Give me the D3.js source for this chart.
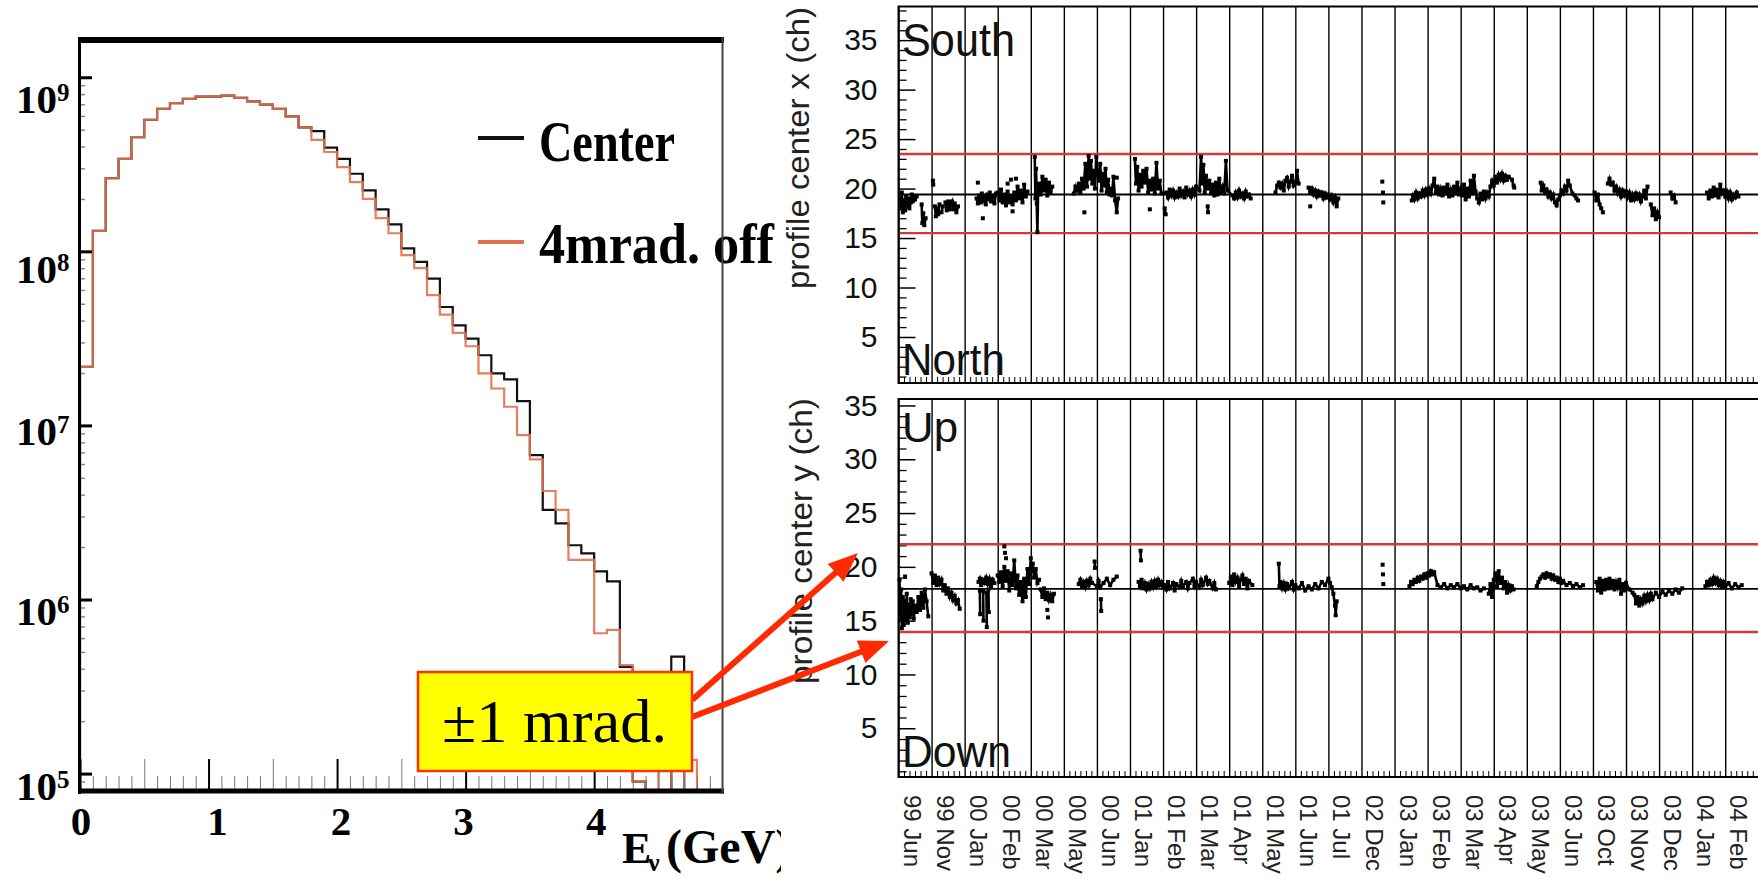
<!DOCTYPE html>
<html><head><meta charset="utf-8">
<script src="https://cdn.jsdelivr.net/npm/d3@7/dist/d3.min.js"></script>
<style>html,body{margin:0;padding:0;background:#fff;overflow:hidden}svg{display:block}</style>
</head><body>
<svg id="chart" width="1758" height="879" xmlns="http://www.w3.org/2000/svg"></svg>
<script>
// ================= DATA =================
// Left: neutrino energy spectrum, 0.1 GeV bins (lower edges, GeV)
const binLow = [0,0.1,0.2,0.3,0.4,0.5,0.6,0.7,0.8,0.9,1.0,1.1,1.2,1.3,1.4,1.5,1.6,1.7,1.8,1.9,2.0,2.1,2.2,2.3,2.4,2.5,2.6,2.7,2.8,2.9,3.0,3.1,3.2,3.3,3.4,3.5,3.6,3.7,3.8,3.9,4.0,4.1,4.2,4.3,4.4,4.5,4.6,4.7,4.8,4.9];
const fluxCenter = [2.17e7,1.31e8,2.63e8,3.4e8,4.53e8,5.7e8,6.59e8,7.1e8,7.52e8,7.74e8,7.74e8,7.85e8,7.62e8,7.26e8,6.97e8,6.59e8,5.96e8,5.16e8,4.9e8,3.94e8,3.4e8,2.79e8,2.24e8,1.74e8,1.43e8,1.04e8,8.69e7,6.97e7,4.79e7,3.76e7,3.15e7,2.53e7,1.99e7,1.84e7,1.38e7,6.76e6,3.27e6,2.74e6,2.05e6,1.84e6,1.45e6,1.27e6,4.1e5,9e4,0,0,4.7e5,0,0,0];
const flux4mrad = [2.17e7,1.31e8,2.63e8,3.4e8,4.53e8,5.7e8,6.59e8,7.1e8,7.52e8,7.74e8,7.74e8,7.85e8,7.62e8,7.26e8,6.97e8,6.59e8,5.96e8,5.16e8,4.37e8,3.72e8,3.05e8,2.5e8,2.0e8,1.55e8,1.27e8,9.5e7,8.0e7,5.6e7,4.33e7,3.4e7,2.85e7,1.99e7,1.63e7,1.28e7,8.8e6,6.38e6,4.2e6,3.27e6,1.69e6,1.69e6,6.4e5,6.7e5,4.2e5,9e4,0,2e5,0,1.2e5,0,0];
const xTickValues = [0,1,2,3,4];
const yTickExponents = [9,8,7,6,5];
const legendNames = ["Center","4mrad. off"];
const annotationText = "±1 mrad.";

// Right: beam profile centre vs run period (x = period index)
const dateLabels = ["99 Jun","99 Nov","00 Jan","00 Feb","00 Mar","00 May","00 Jun","01 Jan","01 Feb","01 Mar","01 Apr","01 May","01 Jun","01 Jul","02 Dec","03 Jan","03 Feb","03 Mar","03 Apr","03 May","03 Jun","03 Oct","03 Nov","03 Dec","04 Jan","04 Feb"];
const profileTicks = [5,10,15,20,25,30,35];
const bandX = [15.5,19.4,23.5];   // lower limit, centre, upper limit
const bandY = [13.95,17.95,22.1];

const profileX = [
 [[0.05,19.0],[0.08,18.0],[0.1,19.6],[0.13,17.6],[0.16,18.8],[0.2,17.8],[0.23,19.2],[0.27,18.2],[0.3,19.0],[0.33,18.0],[0.37,18.6],[0.4,19.4],[0.43,18.7],[0.47,19.1],[0.5,18.9],[0.55,19.2]],
 [[0.70,18.4],[0.72,16.5],[0.75,17.5],[0.78,16.3],[0.82,17.0]],
 [[1.04,20.8],[1.05,20.4]],
 [[1.1,18.2],[1.13,17.2],[1.17,18.0],[1.2,17.4],[1.24,18.4]],
 [[1.3,17.6],[1.34,18.2]],
 [[1.42,18.6],[1.46,17.8],[1.5,18.7],[1.55,17.9],[1.58,18.4],[1.62,18.7],[1.66,17.9],[1.7,18.5],[1.75,17.6],[1.8,18.2]],
 [[2.36,19.0],[2.4,18.5],[2.44,19.3],[2.48,18.6],[2.52,19.5],[2.56,18.8],[2.6,19.2],[2.64,18.4],[2.68,19.4],[2.72,18.9],[2.76,19.6],[2.8,18.7],[2.85,19.3],[2.9,18.5],[2.95,19.5],[3.0,19.6],[3.05,18.8],[3.1,19.9],[3.15,18.6],[3.2,19.4],[3.25,18.3],[3.3,19.7],[3.35,18.6],[3.4,19.2],[3.45,18.4],[3.5,19.6],[3.55,18.8],[3.6,20.2],[3.65,19.0],[3.7,19.8],[3.75,18.6],[3.8,20.4],[3.85,19.2],[3.9,19.7]],
 [[2.4,20.6]],[[2.55,17.0]],[[3.4,20.9]],[[3.55,21.0]],[[3.3,20.5]],[[3.45,17.7]],
 [[4.12,23.2],[4.14,19.0],[4.16,22.0],[4.18,18.5],[4.2,15.6],[4.22,19.5],[4.25,20.5],[4.3,19.4],[4.35,21.2],[4.4,19.8],[4.45,20.9],[4.5,19.3],[4.55,20.6],[4.6,19.6],[4.65,20.2]],
 [[5.3,19.5],[5.35,20.2],[5.4,19.8],[5.45,20.5],[5.5,19.6],[5.55,21.0],[5.6,20.0],[5.65,22.5],[5.7,20.2],[5.75,23.3],[5.78,21.0],[5.82,22.8],[5.86,20.5],[5.9,21.8],[5.94,20.0],[5.98,23.2],[6.02,21.5],[6.06,20.8],[6.1,22.5],[6.14,19.8],[6.18,21.5],[6.22,20.3],[6.26,22.0],[6.3,19.6],[6.34,20.9],[6.38,19.4],[6.42,20.0],[6.46,19.3],[6.5,21.2],[6.55,18.8],[6.6,17.6],[6.64,19.0]],
 [[5.62,17.6]],[[6.6,21.1]],
 [[7.15,23.0],[7.18,20.5],[7.22,22.2],[7.26,19.8],[7.3,21.4],[7.35,20.2],[7.4,21.8],[7.45,20.6],[7.5,22.0],[7.55,19.6],[7.6,20.8],[7.65,19.9],[7.7,21.0],[7.75,19.5],[7.8,22.6],[7.85,20.0],[7.9,20.8],[7.95,19.5],[8.1,19.6],[8.15,19.1],[8.2,19.9],[8.25,19.3],[8.3,19.8],[8.35,19.1],[8.4,19.6],[8.45,19.2],[8.5,20.0],[8.55,19.3],[8.6,19.7],[8.65,19.1],[8.7,20.1],[8.75,19.4],[8.8,19.8],[8.85,19.2],[8.9,19.9],[8.95,19.4],[9.0,20.2],[9.1,19.8],[9.15,23.2],[9.18,20.5],[9.22,22.4],[9.26,19.6],[9.3,21.3],[9.35,20.0],[9.4,20.8],[9.45,19.5],[9.5,20.4],[9.55,19.3],[9.6,20.6],[9.65,19.4],[9.7,21.0],[9.75,19.6],[9.8,20.2],[9.85,19.5],[9.9,22.8],[9.95,19.8],[10.1,19.3],[10.15,19.0],[10.2,19.6],[10.25,19.1],[10.3,19.8],[10.35,19.2],[10.4,19.5],[10.45,19.0],[10.5,19.7],[10.55,19.2],[10.6,19.4],[10.65,19.0]],
 [[7.6,17.9]],[[8.05,18.0],[8.08,17.4]],[[9.35,18.2],[9.36,17.6]],
 [[11.4,19.6],[11.45,20.3],[11.5,20.6],[11.55,20.1],[11.6,20.5],[11.65,19.8],[11.7,20.8],[11.75,21.1],[11.8,20.2],[11.85,20.7],[11.9,21.3],[11.95,20.3],[12.0,20.6],[12.05,21.8],[12.1,20.5]],
 [[12.4,20.1],[12.45,19.6],[12.5,20.0],[12.55,19.4],[12.6,19.8],[12.65,19.2],[12.7,19.7],[12.75,19.3],[12.8,19.6],[12.85,19.0],[12.9,19.5],[12.95,19.1],[13.0,19.4],[13.05,18.9],[13.1,19.3],[13.15,18.6],[13.2,19.1],[13.25,18.2],[13.3,19.0]],
 [[12.45,18.2]],
 [[14.63,20.7]],[[14.65,19.6]],[[14.66,18.6]],
 [[15.52,18.8],[15.56,19.3],[15.6,18.9],[15.65,19.6],[15.7,19.0],[15.75,19.5],[15.8,19.2],[15.85,19.8],[15.9,19.3],[15.95,19.9],[16.0,19.4],[16.05,20.0],[16.1,19.5],[16.15,20.3],[16.2,21.0],[16.25,19.6],[16.3,20.2],[16.35,19.4],[16.4,20.0],[16.45,19.3],[16.5,20.1],[16.55,19.5],[16.6,20.4],[16.65,19.2],[16.7,19.9],[16.75,19.3],[16.8,20.2],[16.85,19.5],[16.9,20.6],[16.95,19.4],[17.0,20.0],[17.05,19.3],[17.1,20.4],[17.15,18.9],[17.2,20.0],[17.25,19.2],[17.3,20.8],[17.35,19.5],[17.4,21.3],[17.45,19.7],[17.5,19.0],[17.55,18.6],[17.6,19.5],[17.65,18.9],[17.7,19.7],[17.75,19.0],[17.8,19.6],[17.85,19.2],[17.9,20.2],[17.95,20.8],[18.0,20.3],[18.05,21.2],[18.1,20.6],[18.15,21.4],[18.2,20.9],[18.25,21.5],[18.3,20.8],[18.35,21.3],[18.4,20.9],[18.45,21.2],[18.55,20.9],[18.6,20.3],[18.62,20.1]],
 [[19.42,20.6],[19.45,19.8],[19.5,20.3],[19.55,19.6],[19.6,19.9],[19.65,19.2],[19.7,19.6],[19.75,19.0],[19.8,19.4],[19.85,18.6],[19.9,18.3],[19.95,18.9],[20.0,19.3],[20.05,19.8],[20.1,19.5],[20.15,20.2],[20.2,19.8],[20.25,20.8],[20.3,20.3],[20.38,19.5],[20.45,19.3],[20.5,19.0],[20.55,18.8]],
 [[21.05,19.6],[21.1,18.8],[21.15,19.4],[21.2,18.4],[21.25,18.0],[21.3,17.6]],
 [[21.45,20.5],[21.5,21.0],[21.55,20.4],[21.6,20.6],[21.65,19.8],[21.7,20.2],[21.75,19.5],[21.8,19.9],[21.85,19.2],[21.9,19.8],[21.95,19.3],[22.0,19.7],[22.05,19.1],[22.1,19.6],[22.15,18.8],[22.2,19.4],[22.25,18.9],[22.3,19.5],[22.35,19.0],[22.4,19.4],[22.45,18.7],[22.5,19.2],[22.55,19.8],[22.6,19.0],[22.65,20.2]],
 [[22.75,18.4],[22.8,17.3],[22.85,18.0],[22.9,16.9],[22.95,17.6],[23.0,17.1]],
 [[23.35,19.6],[23.4,19.0],[23.45,19.3],[23.5,18.6]],
 [[24.45,19.6],[24.5,19.0],[24.55,19.8],[24.6,19.2],[24.65,20.1],[24.7,19.3],[24.75,19.9],[24.8,19.1],[24.85,20.4],[24.9,19.5],[24.95,19.8],[25.0,19.2],[25.05,19.7],[25.1,19.0],[25.15,19.6],[25.2,18.9],[25.25,19.4],[25.3,19.1],[25.35,19.6],[25.4,19.2]]
];

const profileY = [
 [[0.03,18.8],[0.05,15.2],[0.08,17.9],[0.1,14.3],[0.13,17.2],[0.16,14.6],[0.19,16.8],[0.22,15.0],[0.25,17.5],[0.28,14.8],[0.31,16.5],[0.34,15.3],[0.37,17.0],[0.4,15.6],[0.43,16.8],[0.46,15.2],[0.5,16.4],[0.55,15.8],[0.6,17.2],[0.65,16.0],[0.7,17.6],[0.75,16.2],[0.8,17.9],[0.85,16.8],[0.9,15.4]],
 [[0.2,19.1]],
 [[1.0,19.4],[1.05,18.5],[1.1,19.2],[1.15,18.3],[1.2,19.0],[1.25,18.4],[1.3,18.8],[1.35,17.8],[1.4,18.3],[1.45,17.5],[1.5,18.0],[1.55,17.2],[1.6,17.6],[1.65,16.9],[1.7,17.3],[1.75,16.6],[1.8,16.9],[1.85,16.1]],
 [[2.42,18.6],[2.46,18.9],[2.5,18.3],[2.55,18.8],[2.6,18.5],[2.65,19.0],[2.7,18.4],[2.75,18.9],[2.8,18.2],[2.85,18.8],[2.9,18.5]],
 [[2.46,17.8],[2.47,15.6]],[[2.56,17.8],[2.57,15.0]],[[2.66,17.6],[2.67,14.4]],[[2.72,17.9],[2.73,15.8]],
 [[3.0,19.2],[3.05,18.6],[3.1,19.5],[3.15,18.2],[3.2,20.0],[3.25,18.7],[3.3,19.6],[3.35,17.8],[3.4,19.4],[3.45,18.3],[3.5,20.6],[3.55,18.0],[3.6,19.2],[3.65,17.4],[3.7,18.6],[3.75,16.8],[3.8,18.9],[3.85,17.2],[3.9,19.8],[3.95,18.4],[4.0,20.8],[4.03,19.6],[4.06,20.3],[4.1,19.0],[4.15,19.8],[4.2,18.5],[4.25,18.8]],
 [[3.2,21.9]],[[3.22,21.3]],[[3.25,20.8]],
 [[4.3,17.9],[4.35,17.2],[4.4,18.0],[4.45,17.0],[4.5,17.6],[4.55,16.9],[4.6,17.4],[4.65,16.8],[4.7,17.5]],
 [[4.5,16.0]],[[4.52,15.3]],
 [[5.45,18.4],[5.5,18.8],[5.55,18.2],[5.6,18.6],[5.65,18.1],[5.7,18.7],[5.75,18.3],[5.8,18.9],[5.85,18.5],[6.0,18.2],[6.05,18.7],[6.1,18.1],[6.2,18.5],[6.3,18.9],[6.4,18.3],[6.5,18.8],[6.6,19.1]],
 [[5.93,20.5],[5.94,19.9]],[[6.12,17.0],[6.13,15.9]],
 [[7.26,18.6],[7.3,18.2],[7.35,18.8],[7.4,18.0],[7.45,18.5],[7.5,17.9],[7.55,18.4],[7.6,18.0],[7.65,18.6],[7.7,18.1],[7.75,18.7],[7.8,18.2],[7.85,18.8],[7.9,18.3],[7.95,18.6],[8.0,18.1],[8.05,18.3],[8.1,17.9],[8.15,18.6],[8.2,18.0],[8.3,18.5],[8.35,17.8],[8.4,18.4],[8.5,18.1],[8.55,18.7],[8.6,18.2],[8.7,18.6],[8.75,18.0],[8.8,18.5],[8.9,18.9],[8.95,18.2],[9.0,18.6],[9.1,18.1],[9.15,18.8],[9.2,18.3],[9.3,19.0],[9.35,18.4],[9.4,18.7],[9.5,18.0],[9.55,18.5],[9.6,17.9]],
 [[7.32,21.5],[7.33,20.6]],
 [[10.0,18.5],[10.05,19.1],[10.1,18.3],[10.15,19.3],[10.2,18.6],[10.25,19.0],[10.3,18.2],[10.35,18.8],[10.4,19.2],[10.45,18.4],[10.5,18.9],[10.55,18.0],[10.6,18.7],[10.7,18.3]],
 [[11.5,20.3],[11.52,18.2],[11.55,18.6],[11.6,18.0],[11.65,18.5],[11.7,17.9],[11.75,18.4],[11.8,18.0],[11.9,18.6],[11.95,17.9],[12.0,18.3],[12.1,18.0],[12.2,18.5],[12.3,17.8],[12.4,18.2],[12.5,17.9],[12.6,18.4],[12.7,18.0],[12.8,18.6],[12.9,18.3],[13.0,18.9],[13.05,18.5],[13.1,18.1],[13.15,17.5],[13.2,16.4],[13.22,15.5],[13.25,16.8]],
 [[14.64,20.2]],[[14.65,19.3]],[[14.66,18.4]],
 [[15.45,18.2],[15.5,18.6],[15.55,18.4],[15.6,18.8],[15.65,18.6],[15.7,19.0],[15.75,18.7],[15.8,19.1],[15.85,18.9],[15.9,19.3],[15.95,19.0],[16.0,19.4],[16.05,19.2],[16.1,19.6],[16.15,19.3],[16.2,19.5],[16.3,18.3],[16.4,18.1],[16.5,18.4],[16.6,18.0],[16.7,18.3],[16.8,18.1],[16.9,18.4],[17.0,18.0],[17.1,18.2],[17.2,17.9],[17.3,18.3],[17.4,18.0],[17.5,18.1],[17.6,17.8],[17.7,18.0]],
 [[17.85,17.5],[17.9,18.4],[17.95,17.2],[18.0,18.8],[18.05,19.4],[18.1,18.2],[18.15,19.6],[18.2,18.5],[18.25,19.0],[18.3,18.0],[18.35,18.6],[18.4,17.6],[18.45,18.3],[18.5,17.8],[18.55,18.2],[18.6,17.9]],
 [[19.3,18.2],[19.35,18.6],[19.4,18.9],[19.45,19.1],[19.5,19.3],[19.55,19.0],[19.6,19.4],[19.65,19.1],[19.7,19.3],[19.75,18.9],[19.8,19.2],[19.85,18.8],[19.9,19.0],[19.95,18.6],[20.0,18.9],[20.05,18.5],[20.1,18.7],[20.2,18.3],[20.3,18.5],[20.4,18.2],[20.5,18.4],[20.6,18.1],[20.7,18.3]],
 [[21.1,18.6],[21.15,17.8],[21.2,18.9],[21.25,17.6],[21.3,18.7],[21.35,17.9],[21.4,18.8],[21.45,18.0],[21.5,18.9],[21.55,18.2],[21.6,18.7],[21.65,17.9],[21.7,18.6],[21.75,18.1],[21.8,18.8],[21.85,17.5],[21.9,18.4],[21.95,17.8],[22.0,18.5],[22.1,17.9],[22.2,17.6],[22.25,17.4],[22.3,16.6],[22.35,17.2],[22.4,16.4],[22.45,17.0],[22.5,16.6],[22.55,17.3],[22.6,16.8],[22.65,17.4],[22.7,16.9],[22.75,17.5],[22.8,17.0],[22.9,17.6],[23.0,17.2],[23.1,17.7],[23.2,17.4],[23.3,17.8],[23.4,17.5],[23.5,17.9],[23.6,17.6],[23.7,18.0]],
 [[24.4,18.2],[24.45,18.6],[24.5,18.3],[24.55,18.8],[24.6,18.4],[24.65,19.0],[24.7,18.5],[24.75,18.9],[24.8,18.3],[24.85,18.7],[24.9,18.2],[24.95,18.6],[25.0,18.1],[25.1,18.5],[25.2,18.0],[25.3,18.4],[25.4,18.1],[25.5,18.3]]
];

// ================= DRAWING =================
const svg = d3.select("#chart");
const SERIF = "'Liberation Serif','Times New Roman',Times,serif";
const SANS = "'Liberation Sans',Arial,Helvetica,sans-serif";
const ORANGE = "#e2714d";
svg.append("rect").attr("width",1758).attr("height",879).attr("fill","#fff");

// ---------- left: histogram ----------
const xL = d3.scaleLinear().domain([0,5]).range([80,722.7]);
const yL = d3.scaleLog().domain([Math.pow(10,4.9), Math.pow(10,9.214)]).range([791,40]);
const defs = svg.append("defs");
defs.append("clipPath").attr("id","clipL").append("rect")
  .attr("x",80).attr("y",40).attr("width",643).attr("height",752);

const gL = svg.append("g");
const histLine = d3.line()
  .x(d=>xL(d[0]))
  .y(d=> d[1] > 0 ? yL(d[1]) : 797)
  .curve(d3.curveStepAfter);
function histPts(vals){
  const pts = [[0,0]];
  vals.forEach((v,i)=>pts.push([binLow[i], v]));
  pts.push([5,0]);
  return pts;
}
const gH = gL.append("g").attr("clip-path","url(#clipL)");
gH.append("path").attr("d",histLine(histPts(fluxCenter)))
  .attr("fill","none").attr("stroke","#111").attr("stroke-width",2.2);
gH.append("path").attr("d",histLine(histPts(flux4mrad)))
  .attr("fill","none").attr("stroke",ORANGE).attr("stroke-width",2.2).attr("opacity",0.9);

// x axis ticks (pointing up from the bottom axis)
const minorGeV = d3.range(1,50).map(i=>i/10).filter(v=>Math.abs(v*2-Math.round(v*2))>1e-6);
const halfGeV = [0.5,1.5,2.5,3.5,4.5];
function styleAxis(g, color, w){
  g.select(".domain").remove();
  g.selectAll(".tick line").attr("stroke",color).attr("stroke-width",w);
  g.selectAll(".tick text").remove();
}
gL.append("g").attr("transform","translate(0,789)")
  .call(d3.axisTop(xL).tickValues(minorGeV).tickSize(13).tickFormat(""))
  .call(g=>styleAxis(g,"#777",1));
gL.append("g").attr("transform","translate(0,789)")
  .call(d3.axisTop(xL).tickValues(halfGeV).tickSize(30).tickFormat(""))
  .call(g=>styleAxis(g,"#777",1));
gL.append("g").attr("transform","translate(0,789)")
  .call(d3.axisTop(xL).tickValues(xTickValues).tickSize(30).tickFormat(""))
  .call(g=>styleAxis(g,"#000",2));

// y axis ticks
const minorFlux = [];
for (let e=4;e<=9;e++) for (let m=2;m<=9;m++){ const v=m*Math.pow(10,e); if(v>yL.domain()[0] && v<yL.domain()[1]) minorFlux.push(v); }
gL.append("g").attr("transform","translate(80,0)")
  .call(d3.axisRight(yL).tickValues(minorFlux).tickSize(5).tickFormat(""))
  .call(g=>styleAxis(g,"#888",1.5));
gL.append("g").attr("transform","translate(80,0)")
  .call(d3.axisRight(yL).tickValues(yTickExponents.map(e=>Math.pow(10,e))).tickSize(12).tickFormat(""))
  .call(g=>styleAxis(g,"#000",3));

// frame
gL.append("rect").attr("x",79).attr("y",37).attr("width",645).attr("height",6).attr("fill","#000");
gL.append("line").attr("x1",79.5).attr("x2",79.5).attr("y1",37).attr("y2",794).attr("stroke","#000").attr("stroke-width",3);
gL.append("line").attr("x1",78).attr("x2",724).attr("y1",791).attr("y2",791).attr("stroke","#000").attr("stroke-width",5);

// y labels 10^n
const yLabelDy = {9:36, 8:32, 7:20, 6:25, 5:26};
yTickExponents.forEach(e=>{
  const t = gL.append("text").attr("x",16).attr("y",yL(Math.pow(10,e))+yLabelDy[e])
    .attr("font-family",SERIF).attr("font-weight","bold").attr("font-size",41).attr("fill","#000");
  t.append("tspan").text("10");
  t.append("tspan").attr("dy",-12).attr("font-size",25).text(String(e));
});
// x labels
const xLabelDx = {0:1, 1:9, 2:4, 3:-2, 4:2};
xTickValues.forEach(v=>{
  gL.append("text").attr("x",xL(v)+xLabelDx[v]).attr("y",835).attr("text-anchor","middle")
    .attr("font-family",SERIF).attr("font-weight","bold").attr("font-size",41).text(String(v));
});
// axis title: E_nu (GeV)
const xTitle = gL.append("text").attr("y",863).attr("font-family",SERIF).attr("font-weight","bold");
xTitle.append("tspan").attr("x",622).attr("font-size",44).text("E");
xTitle.append("tspan").attr("x",648).attr("dy",8).attr("font-size",26).text("ν");
xTitle.append("tspan").attr("x",666).attr("dy",-8).attr("font-size",48).text("(GeV)");

// legend
const legColors = ["#111", ORANGE];
const legY = [138, 242];
const legBase = [161, 263];
const legLen = [136, 235];
legendNames.forEach((n,i)=>{
  gL.append("line").attr("x1",478).attr("x2",524).attr("y1",legY[i]).attr("y2",legY[i])
    .attr("stroke",legColors[i]).attr("stroke-width",4);
  gL.append("text").attr("x",539).attr("y",legBase[i])
    .attr("font-family",SERIF).attr("font-weight","bold").attr("font-size",56)
    .attr("textLength",legLen[i]).attr("lengthAdjust","spacingAndGlyphs").text(n);
});
gL.append("line").attr("x1",722.5).attr("x2",722.5).attr("y1",37).attr("y2",794).attr("stroke","#444").attr("stroke-width",2);

// ---------- right: profile panels ----------
svg.append("rect").attr("x",781).attr("y",0).attr("width",977).attr("height",879).attr("fill","#fff");
const xR = d3.scaleLinear().domain([0,26]).range([898.5,1758.3]);
const colBounds = d3.range(27);
const minorCols = [];
for (let k=0;k<26;k++) for (let j=1;j<6;j++) minorCols.push(k+j/6);

function drawPanel(cfg){
  const yS = d3.scaleLinear().domain(cfg.dom).range([cfg.y1,cfg.y0]);
  const g = svg.append("g");
  g.append("g").attr("transform",`translate(0,${cfg.y1})`)
    .call(d3.axisBottom(xR).tickValues(colBounds).tickSize(-(cfg.y1-cfg.y0)).tickFormat(""))
    .call(a=>styleAxis(a,"#000",1.4));
  g.append("g").attr("transform",`translate(0,${cfg.y1})`)
    .call(d3.axisBottom(xR).tickValues(minorCols).tickSize(-6).tickFormat(""))
    .call(a=>styleAxis(a,"#000",1));
  const minorV = d3.range(1,39).filter(v=>v>cfg.dom[0] && v<cfg.dom[1] && v%5!==0);
  g.append("g").attr("transform","translate(898.5,0)")
    .call(d3.axisLeft(yS).tickValues(minorV).tickSizeInner(-8).tickSizeOuter(0).tickFormat(""))
    .call(a=>styleAxis(a,"#000",1.3));
  const ax = g.append("g").attr("transform","translate(898.5,0)")
    .call(d3.axisLeft(yS).tickValues(profileTicks).tickSizeInner(-17).tickSizeOuter(0).tickPadding(21).tickFormat(d3.format("d")));
  ax.select(".domain").remove();
  ax.selectAll(".tick line").attr("stroke","#000").attr("stroke-width",1.5);
  ax.selectAll(".tick text").attr("font-family",SANS).attr("font-size",30).attr("fill","#111");
  cfg.band.forEach((v,i)=>{
    g.append("line").attr("x1",898.5).attr("x2",1758).attr("y1",yS(v)).attr("y2",yS(v))
      .attr("stroke", i===1 ? "#000" : "#d23a3a").attr("stroke-width", i===1 ? 1.8 : 2.4);
  });
  const ln = d3.line().x(d=>xR(d[0])).y(d=>yS(d[1]));
  cfg.segs.forEach(s=>{
    if (s.length>1) g.append("path").attr("d",ln(s)).attr("fill","none").attr("stroke","#000").attr("stroke-width",2.6);
    s.forEach(p=>g.append("rect").attr("x",xR(p[0])-2).attr("y",yS(p[1])-2).attr("width",4).attr("height",4).attr("fill","#000"));
  });
  g.append("rect").attr("x",898.5).attr("y",cfg.y0).attr("width",870).attr("height",cfg.y1-cfg.y0)
    .attr("fill","none").attr("stroke","#000").attr("stroke-width",2);
  cfg.words.forEach(w=>{
    g.append("text").attr("x",902).attr("y",w.y).attr("font-family",SANS).attr("font-size",w.fs)
      .attr("textLength",w.len).attr("lengthAdjust","spacingAndGlyphs").attr("fill","#111").text(w.t);
  });
  g.append("text").attr("transform",`translate(${cfg.tx},${cfg.ty}) rotate(-90)`)
    .attr("text-anchor","middle").attr("font-family",SANS).attr("font-size",31).attr("fill","#222")
    .attr("textLength",cfg.tlen).attr("lengthAdjust","spacingAndGlyphs").text(cfg.title);
}
drawPanel({y0:6.5,y1:383,dom:[0.35,38.4],segs:profileX,band:bandX,
  words:[{t:"South",y:56,fs:47,len:113},{t:"North",y:375,fs:45,len:103}],
  title:"profile center x (ch)",tx:809,ty:148,tlen:282});
drawPanel({y0:399,y1:777,dom:[0.47,35.6],segs:profileY,band:bandY,
  words:[{t:"Up",y:442,fs:42,len:56},{t:"Down",y:767,fs:45,len:109}],
  title:"profile center y (ch)",tx:812,ty:541,tlen:286});

// date labels
dateLabels.forEach((d,k)=>{
  svg.append("text").attr("transform",`translate(${xR(k)+5},795) rotate(90)`)
    .attr("font-family",SANS).attr("font-size",24).attr("fill","#222").text(d);
});

// ---------- annotation ----------
const ARROW = "#ff2a00";
defs.append("marker").attr("id","ah").attr("viewBox","0 0 30 24").attr("refX",30).attr("refY",12)
  .attr("markerWidth",30).attr("markerHeight",24).attr("markerUnits","userSpaceOnUse").attr("orient","auto")
  .append("path").attr("d","M0,0L30,12L0,24Z").attr("fill",ARROW);
const arrows = [[692,700,858,553],[692,717,889,641]];
arrows.forEach(a=>{
  const dx=a[2]-a[0], dy=a[3]-a[1], L=Math.hypot(dx,dy);
  const ex=a[2]-dx/L*14, ey=a[3]-dy/L*14;
  svg.append("line").attr("x1",a[0]).attr("y1",a[1]).attr("x2",ex).attr("y2",ey)
    .attr("stroke",ARROW).attr("stroke-width",6);
  svg.append("path").attr("d",`M${ex},${ey}L${a[2]},${a[3]}`).attr("stroke","none").attr("marker-end","url(#ah)");
});
svg.append("rect").attr("x",418).attr("y",672).attr("width",274).attr("height",99)
  .attr("fill","#ffff00").attr("stroke","#ff3300").attr("stroke-width",2.5);
svg.append("text").attr("x",442).attr("y",742).attr("font-family",SERIF).attr("font-size",62)
  .attr("textLength",225).attr("lengthAdjust","spacingAndGlyphs").attr("fill","#000").text(annotationText);
</script>
</body></html>
